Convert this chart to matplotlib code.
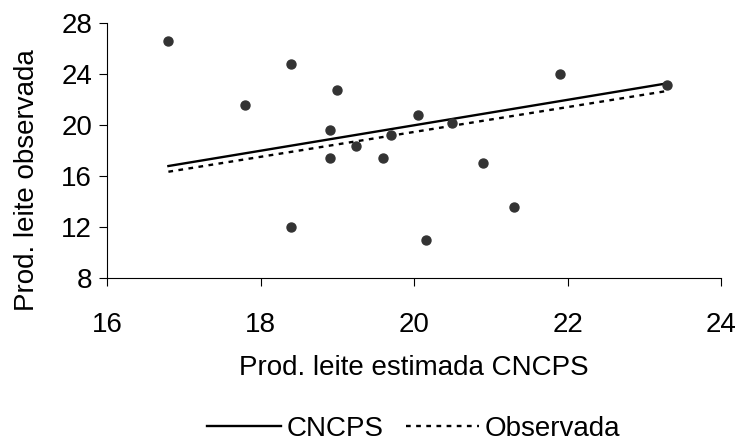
import matplotlib
matplotlib.use('Agg')
import matplotlib.pyplot as plt

plt.rcParams['font.family'] = ['Liberation Sans', 'DejaVu Sans']

# dados
estimada = [16.8, 17.8, 18.4, 18.4, 18.9, 18.9, 19.0, 19.25, 19.6, 19.7,
            20.05, 20.15, 20.5, 20.9, 21.3, 21.9, 23.3]
observada = [26.6, 21.6, 24.8, 12.0, 19.6, 17.4, 22.8, 18.4, 17.4, 19.2,
             20.8, 11.0, 20.2, 17.0, 13.6, 24.0, 23.2]

# linhas de tendencia (extremos)
linha_x = [16.8, 23.3]
linha_cncps = [16.8, 23.3]
linha_obs = [16.35, 22.7]

xticks = [16, 18, 20, 22, 24]
yticks = [8, 12, 16, 20, 24, 28]

fs = 20

fig = plt.figure(figsize=(7.38, 4.41), dpi=100)
ax = fig.add_axes([107 / 738, 1 - 278 / 441, 614 / 738, 254.5 / 441])

ax.scatter(estimada, observada, s=42, color='#333333', zorder=3)
ax.plot(linha_x, linha_cncps, color='black', lw=1.7, label='CNCPS')
ax.plot(linha_x, linha_obs, color='black', lw=1.7, ls=(0, (2.0, 2.3)), label='Observada')

ax.set_xlim(16, 24)
ax.set_ylim(8, 28)
ax.set_xticks(xticks)
ax.set_yticks(yticks)
for s in ['top', 'right']:
    ax.spines[s].set_visible(False)
ax.tick_params(direction='out', length=5.8, width=0.8, labelsize=fs, pad=5)
ax.tick_params(axis='x', pad=19)

ax.set_xlabel('Prod. leite estimada CNCPS', fontsize=fs, labelpad=12)
fig.text(27 / 738, 1 - 180 / 441, 'Prod. leite observada', fontsize=fs,
         rotation=90, ha='center', va='center')

fig.legend(loc='center', bbox_to_anchor=(414 / 738, 1 - 429 / 441), ncol=2, frameon=False,
           fontsize=fs, handlelength=2.65, columnspacing=0.8, handletextpad=0.2)

fig.savefig('out.png', dpi=100)
